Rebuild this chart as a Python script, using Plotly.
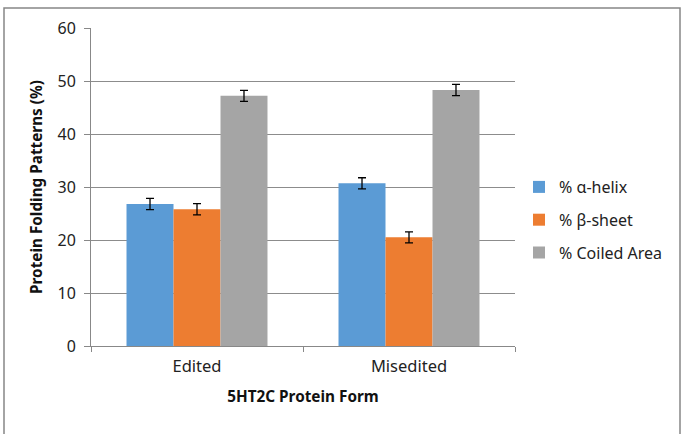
import plotly.graph_objects as go

categories = ["Edited", "Misedited"]
alpha_helix = [26.8, 30.7]
alpha_err = [1.05, 1.05]
beta_sheet = [25.8, 20.5]
beta_err = [1.05, 1.05]
coiled = [47.2, 48.3]
coiled_err = [1.05, 1.05]

series = [
    ("% α-helix", alpha_helix, alpha_err, "#5B9BD5"),
    ("% β-sheet", beta_sheet, beta_err, "#ED7D31"),
    ("% Coiled Area", coiled, coiled_err, "#A5A5A5"),
]

FONT = "Noto Sans"
fig = go.Figure()
for i, (name, vals, err, col) in enumerate(series):
    fig.add_trace(go.Bar(
        x=categories, y=vals, name=name, marker=dict(color=col, line=dict(width=0)),
        error_y=dict(type="data", array=err, color="black", thickness=1.3, width=4),
        legendgroup=f"g{i}",
    ))

L, R, T, B = 91, 173, 28, 88
W, H = 688, 434
pw, ph = W - L - R, H - T - B

def px(x):
    return (x - L) / pw

def py(y):
    return (H - B - y) / ph

fig.update_layout(
    width=W, height=H,
    margin=dict(l=L, r=R, t=T, b=B, pad=0),
    paper_bgcolor="white", plot_bgcolor="white",
    barmode="group", bargap=0.335, bargroupgap=0,
    font=dict(family=FONT, size=14, color="#222222"),
    legend=dict(x=px(519), y=py(170), xanchor="left", yanchor="top",
                font=dict(size=16, family=FONT, color="#222222"),
                tracegroupgap=9, itemwidth=30, bgcolor="rgba(0,0,0,0)"),
    showlegend=True,
    shapes=[dict(type="path", xref="paper", yref="paper",
                 path=f"M {px(4)} {py(440)} L {px(4)} {py(8)} L {px(680)} {py(8)} L {px(680)} {py(440)}",
                 line=dict(color="#868686", width=1.5))],
)
fig.update_xaxes(
    showline=True, linecolor="#888888", linewidth=1,
    ticks="outside", tickson="boundaries", ticklen=5, tickcolor="#888888",
    tickfont=dict(size=16.5, family=FONT, color="#222222"), ticklabelstandoff=5,
    title=dict(text="<b>5HT2C Protein Form</b>", font=dict(size=15.3, family=FONT, color="#111111"), standoff=15),
    showgrid=False,
)
fig.update_yaxes(
    range=[0, 60], dtick=10, showgrid=True, gridcolor="#8c8c8c", gridwidth=1,
    showline=True, linecolor="#888888", linewidth=1,
    ticks="outside", ticklen=6, tickcolor="#888888",
    tickfont=dict(size=16, family=FONT, color="#222222"), ticklabelstandoff=5,
    title=dict(text="<b>Protein Folding Patterns (%)</b>", font=dict(size=15.3, family=FONT, color="#111111"), standoff=11),
    zeroline=False,
)

fig.write_html("out.html")
